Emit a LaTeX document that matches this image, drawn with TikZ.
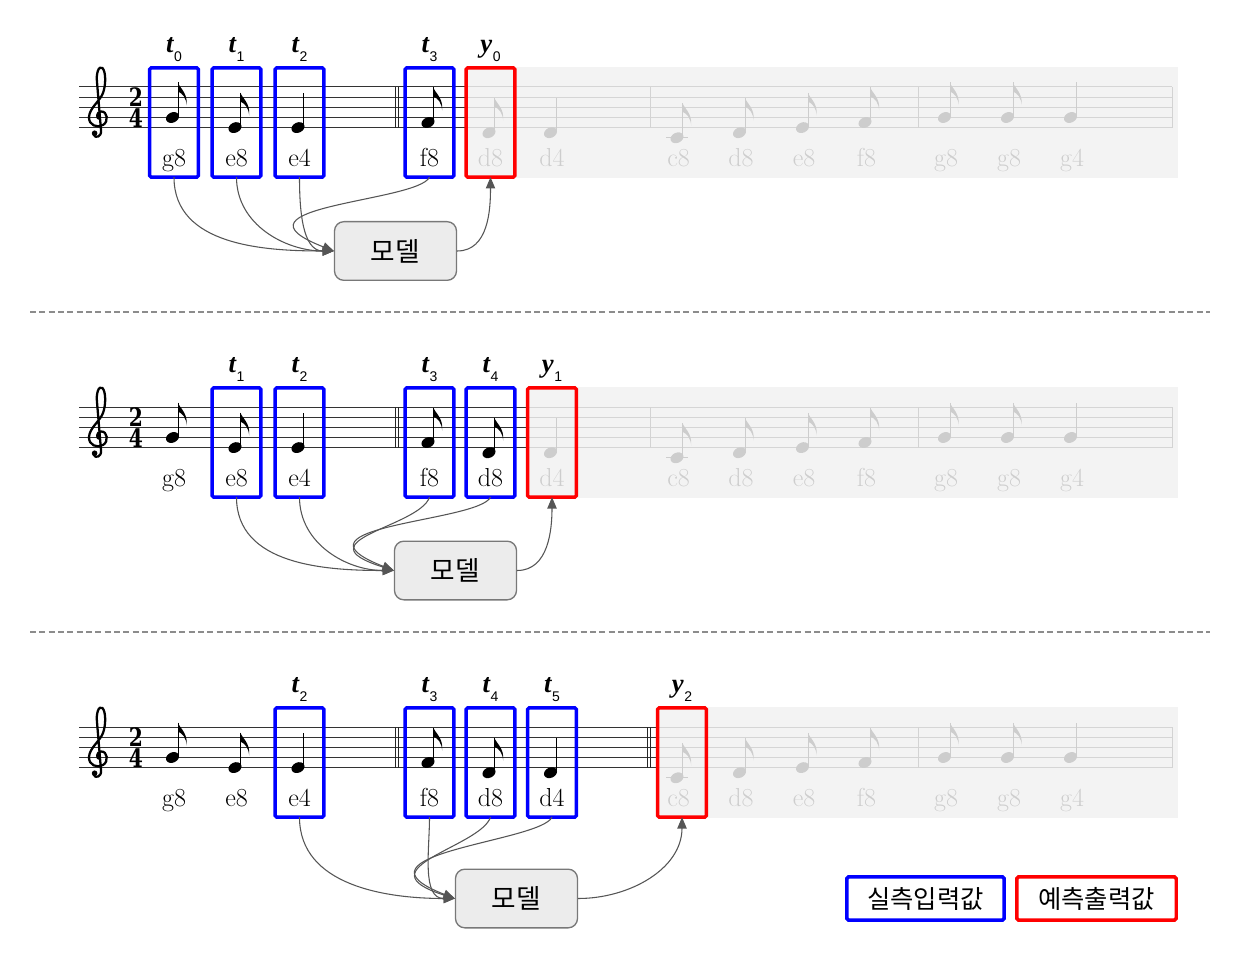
\documentclass[tikz,border=0pt]{standalone}
\usepackage{fontspec}
\usepackage{graphicx}
\newfontfamily\kofont{Noto Sans CJK KR}
\newfontfamily\lserif{Liberation Serif}
\newfontfamily\lsans{Liberation Sans}
\newfontfamily\tsfont{DejaVu Serif}
\usetikzlibrary{arrows.meta}
\definecolor{cblue}{RGB}{0,0,255}
\definecolor{cred}{RGB}{255,0,0}
\definecolor{cline}{RGB}{85,85,85}
\definecolor{cbg}{RGB}{242,242,242}
\definecolor{cmodel}{RGB}{236,236,236}
\definecolor{cmodeledge}{RGB}{120,120,120}
\definecolor{cdash}{RGB}{140,140,140}
\newcommand{\NHead}[2]{\fill[rotate around={25:(#1,#2)}] (#1,#2) ellipse [x radius=6.8, y radius=5.1];}
\newcommand{\NQuarter}[2]{\NHead{#1}{#2}\draw[line width=0.85pt] (#1+5.9,#2-1) -- (#1+5.9,#2-35);}
\newcommand{\NEighth}[2]{\NQuarter{#1}{#2}\fill (#1+5.5,#2-35) .. controls (#1+6.5,#2-30) and (#1+15.5,#2-25) .. (#1+14.2,#2-12) .. controls (#1+13.5,#2-20) and (#1+10,#2-24) .. (#1+5.5,#2-26) -- cycle;}
\newcommand{\TStep}[2]{#1\kern0.5pt\raisebox{-6.8pt}{\lsans\mdseries\upshape\fontsize{10.5}{10.5}\selectfont #2}}
\newcommand{\GClef}[1]{%
  \draw[line width=1.7pt, line cap=round, line join=round]
    (100,#1+119) .. controls (96,#1+119) and (96,#1+112) .. (101,#1+111.5)
    .. controls (107.5,#1+111) and (109,#1+121.5) .. (103,#1+125)
    .. controls (97,#1+128.5) and (88.5,#1+125) .. (89,#1+117)
    .. controls (89.5,#1+108) and (100,#1+101) .. (103,#1+93)
    .. controls (106,#1+85) and (106,#1+72) .. (102.5,#1+68)
    .. controls (98.5,#1+65) and (96,#1+74) .. (97,#1+82)
    -- (101,#1+130)
    .. controls (102,#1+137) and (95,#1+139) .. (93.5,#1+134.5);
  \fill (94.6,#1+133.2) circle [radius=2.8];}
\begin{document}
\begin{tikzpicture}[x=0.75pt,y=-0.75pt,
  staffline/.style={line width=0.75pt, draw=black!80},
  barl/.style={line width=0.75pt, draw=black!85},
  inbox/.style={draw=cblue, line width=2.6pt, rounded corners=1.2pt, minimum width=36.6pt, minimum height=82pt, inner sep=0pt, outer sep=0pt},
  outbox/.style={inbox, draw=cred},
  notelabel/.style={anchor=base, inner sep=0pt, font=\fontsize{19.5}{19.5}\selectfont},
  tlabel/.style={anchor=base, inner sep=0pt, font=\lserif\bfseries\itshape\fontsize{20}{20}\selectfont},
  tsig/.style={inner sep=0pt, font=\tsfont\bfseries\fontsize{19}{19}\selectfont},
  model/.style={draw=cmodeledge, fill=cmodel, line width=1pt, rounded corners=7pt, minimum width=91.5pt, minimum height=44pt, inner sep=0pt, font=\kofont\fontsize{20}{20}\selectfont},
  conn/.style={draw=cline, line width=0.8pt, -{Triangle[length=8.5pt,width=7pt]}},
  legendbox/.style={line width=2.6pt, fill=white, rounded corners=1.2pt, minimum width=118pt, minimum height=32.3pt, inner sep=0pt, font=\kofont\fontsize{19}{19}\selectfont},
  sepline/.style={draw=cdash, line width=1pt, dash pattern=on 4.5pt off 2.5pt}]
\useasboundingbox (0,0) rectangle (1246,966);
\fill[white] (0,0) rectangle (1246,966);

\foreach \yo in {0,320,640}{
  \foreach \k in {0,...,4}{\draw[staffline] (79,\yo+87+10.15*\k) -- (1172,\yo+87+10.15*\k);}
  \draw[barl] (395.5,\yo+87) -- (395.5,\yo+127.6);
  \draw[barl] (398.5,\yo+87) -- (398.5,\yo+127.6);
  \ifnum\yo=640
    \draw[barl] (647,\yo+87) -- (647,\yo+127.6);
    \draw[barl] (650,\yo+87) -- (650,\yo+127.6);
  \else
    \draw[barl] (650,\yo+87) -- (650,\yo+127.6);
  \fi
  \draw[barl] (918,\yo+87) -- (918,\yo+127.6);
  \draw[barl] (1172,\yo+87) -- (1172,\yo+127.6);
  \GClef{\yo}
  \node[tsig] (tsa-\yo) at (136,\yo+97) {\scalebox{0.8}[1]{2}};
  \node[tsig] (tsb-\yo) at (136,\yo+118.5) {\scalebox{0.8}[1]{4}};
  \NEighth{172.5}{\yo+117.5}
  \NEighth{235}{\yo+127.6}
  \NQuarter{298}{\yo+127.6}
  \NEighth{428}{\yo+122.5}
  \NEighth{489}{\yo+132.7}
  \NQuarter{550.5}{\yo+132.7}
  \draw[line width=0.8pt] (666,\yo+137.8) -- (688,\yo+137.8);
  \NEighth{677}{\yo+137.8}
  \NEighth{739.5}{\yo+132.7}
  \NEighth{802.5}{\yo+127.6}
  \NEighth{865}{\yo+122.5}
  \NEighth{944.5}{\yo+117.5}
  \NEighth{1007.5}{\yo+117.5}
  \NQuarter{1070.5}{\yo+117.5}
  \node[notelabel] (la-\yo) at (174,\yo+166.5) {g8};
  \node[notelabel] (lb-\yo) at (236.5,\yo+166.5) {e8};
  \node[notelabel] (lc-\yo) at (299.5,\yo+166.5) {e4};
  \node[notelabel] (ld-\yo) at (429.5,\yo+166.5) {f8};
  \node[notelabel] (le-\yo) at (490.5,\yo+166.5) {d8};
  \node[notelabel] (lf-\yo) at (552,\yo+166.5) {d4};
  \node[notelabel] (lg-\yo) at (678.5,\yo+166.5) {c8};
  \node[notelabel] (lh-\yo) at (741,\yo+166.5) {d8};
  \node[notelabel] (li-\yo) at (804,\yo+166.5) {e8};
  \node[notelabel] (lj-\yo) at (866.5,\yo+166.5) {f8};
  \node[notelabel] (lk-\yo) at (946,\yo+166.5) {g8};
  \node[notelabel] (ll-\yo) at (1009,\yo+166.5) {g8};
  \node[notelabel] (lm-\yo) at (1072,\yo+166.5) {g4};
}

% future (not yet observed) part, faded
\fill[cbg, opacity=0.85] (464.5,67) rectangle (1178,178);
\fill[cbg, opacity=0.85] (526,387) rectangle (1178,498);
\fill[cbg, opacity=0.85] (656,707) rectangle (1178,818);

% row 1
\node[inbox] (b1a) at (174,122.5) {};
\node[inbox] (b1b) at (236.5,122.5) {};
\node[inbox] (b1c) at (299.5,122.5) {};
\node[inbox] (b1d) at (429.5,122.5) {};
\node[outbox] (r1) at (490.5,122.5) {};
\node[tlabel] (t1a) at (174,52.7) {\TStep{t}{0}};
\node[tlabel] (t1b) at (236.5,52.7) {\TStep{t}{1}};
\node[tlabel] (t1c) at (299.5,52.7) {\TStep{t}{2}};
\node[tlabel] (t1d) at (429.5,52.7) {\TStep{t}{3}};
\node[tlabel] (t1e) at (490.5,52.7) {\TStep{y}{0}};
\node[model] (m1) at (395.5,251) {모델};
\draw[conn] (b1a.south) to[out=-90,in=180] (m1.west);
\draw[conn] (b1b.south) to[out=-90,in=180] (m1.west);
\draw[conn] (b1c.south) to[out=-90,in=180] (m1.west);
\draw[conn] (b1d.south) .. controls +(-12,25) and +(-115,-45) .. (m1.west);
\draw[conn] (m1.east) to[out=0,in=-90] (r1.south);

% row 2
\node[inbox] (b2a) at (236.5,442.5) {};
\node[inbox] (b2b) at (299.5,442.5) {};
\node[inbox] (b2c) at (429.5,442.5) {};
\node[inbox] (b2d) at (490.5,442.5) {};
\node[outbox] (r2) at (552,442.5) {};
\node[tlabel] (t2a) at (236.5,372.7) {\TStep{t}{1}};
\node[tlabel] (t2b) at (299.5,372.7) {\TStep{t}{2}};
\node[tlabel] (t2c) at (429.5,372.7) {\TStep{t}{3}};
\node[tlabel] (t2d) at (490.5,372.7) {\TStep{t}{4}};
\node[tlabel] (t2e) at (552,372.7) {\TStep{y}{1}};
\node[model] (m2) at (455.5,570.5) {모델};
\draw[conn] (b2a.south) to[out=-90,in=180] (m2.west);
\draw[conn] (b2b.south) to[out=-90,in=180] (m2.west);
\draw[conn] (b2c.south) .. controls +(-10,30) and +(-95,-30) .. (m2.west);
\draw[conn] (b2d.south) .. controls +(-12,25) and +(-115,-45) .. (m2.west);
\draw[conn] (m2.east) to[out=0,in=-90] (r2.south);

% row 3
\node[inbox] (b3a) at (299.5,762.5) {};
\node[inbox] (b3b) at (429.5,762.5) {};
\node[inbox] (b3c) at (490.5,762.5) {};
\node[inbox] (b3d) at (552,762.5) {};
\node[outbox] (r3) at (682,762.5) {};
\node[tlabel] (t3a) at (299.5,692.7) {\TStep{t}{2}};
\node[tlabel] (t3b) at (429.5,692.7) {\TStep{t}{3}};
\node[tlabel] (t3c) at (490.5,692.7) {\TStep{t}{4}};
\node[tlabel] (t3d) at (552,692.7) {\TStep{t}{5}};
\node[tlabel] (t3e) at (682,692.7) {\TStep{y}{2}};
\node[model] (m3) at (516.5,898.5) {모델};
\draw[conn] (b3a.south) to[out=-90,in=180] (m3.west);
\draw[conn] (b3b.south) to[out=-90,in=180] (m3.west);
\draw[conn] (b3c.south) .. controls +(-10,30) and +(-95,-30) .. (m3.west);
\draw[conn] (b3d.south) .. controls +(-12,25) and +(-115,-45) .. (m3.west);
\draw[conn] (m3.east) to[out=0,in=-90] (r3.south);

% separators
\draw[sepline] (30,312) -- (1210,312);
\draw[sepline] (30,632) -- (1210,632);

% legend
\node[legendbox, draw=cblue] (legin) at (925.5,898.5) {실측입력값};
\node[legendbox, draw=cred, minimum width=119.6pt] (legout) at (1096.5,898.5) {예측출력값};
\end{tikzpicture}
\end{document}
